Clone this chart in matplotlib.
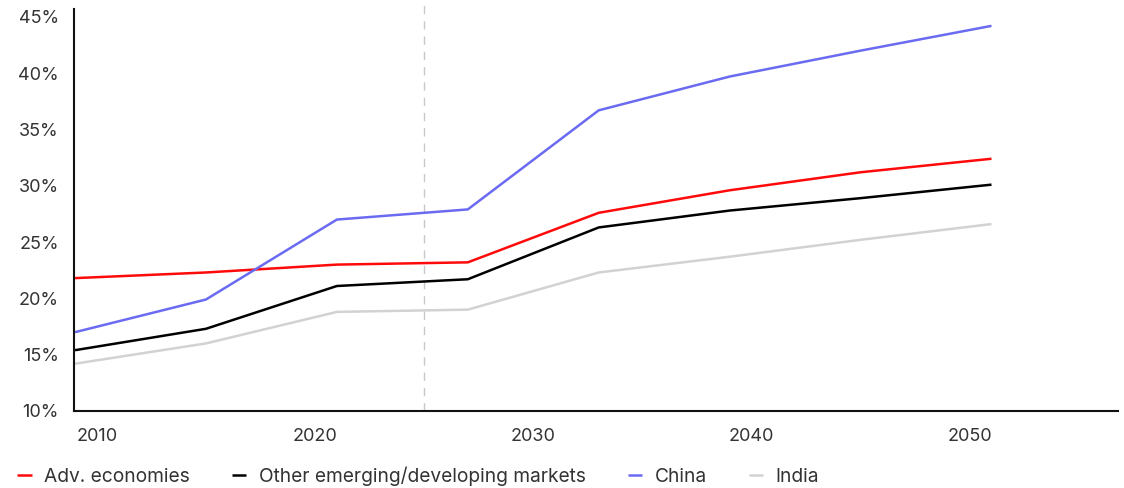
"""
Share of population by region, 2009-2051, with projections after 2025.
"""

import matplotlib.pyplot as plt

years = [2009, 2015, 2021, 2027, 2033, 2039, 2045, 2051]

adv_economies = [21.8, 22.3, 23.0, 23.2, 27.6, 29.6, 31.2, 32.4]
other_emerging = [15.4, 17.3, 21.1, 21.7, 26.3, 27.8, 28.9, 30.1]
china = [17.0, 19.9, 27.0, 27.9, 36.7, 39.7, 42.0, 44.2]
india = [14.2, 16.0, 18.8, 19.0, 22.3, 23.7, 25.2, 26.6]

series = [
    ('Adv. economies', adv_economies, '#ff0a0a'),
    ('Other emerging/developing markets', other_emerging, '#000000'),
    ('China', china, '#6b6bf2'),
    ('India', india, '#d2d2d2'),
]

x_ticks = [2010, 2020, 2030, 2040, 2050]
y_ticks = [10, 15, 20, 25, 30, 35, 40, 45]
projection_start = 2025


def main():
    plt.rcParams['font.family'] = ['Inter', 'DejaVu Sans']
    fig = plt.figure(figsize=(11.24, 4.88), dpi=100)
    ax = fig.add_axes([0.0658, 0.1578, 0.9289, 0.8238])

    ax.axvline(projection_start, ymin=0, ymax=1.01, color='#c8c8c8',
               linewidth=1, dashes=(6, 5), clip_on=False)

    for label, values, color in series:
        ax.plot(years, values, color=color, linewidth=1.8, label=label,
                solid_capstyle='butt')

    ax.set_xlim(2008.95, 2056.8)
    ax.set_ylim(10, 45.7)
    ax.set_xticks(x_ticks)
    ax.set_yticks(y_ticks)
    ax.set_yticklabels([f'{v}%' for v in y_ticks])
    ax.tick_params(length=0, labelsize=13, colors='#333333')
    ax.tick_params(axis='x', pad=12)
    ax.tick_params(axis='y', pad=11)

    for side in ('top', 'right'):
        ax.spines[side].set_visible(False)
    for side in ('left', 'bottom'):
        ax.spines[side].set_linewidth(1.5)
        ax.spines[side].set_color('#111111')

    handles, labels = ax.get_legend_handles_labels()
    fig.legend(handles, labels, loc='lower left', ncol=4,
               bbox_to_anchor=(0.0, -0.031), frameon=False,
               prop={'size': 13.8},
               handlelength=0.75, handletextpad=0.65, columnspacing=2.2,
               labelcolor='#333333')

    fig.savefig('out.png', dpi=100)
    plt.close(fig)


if __name__ == "__main__":
    main()
